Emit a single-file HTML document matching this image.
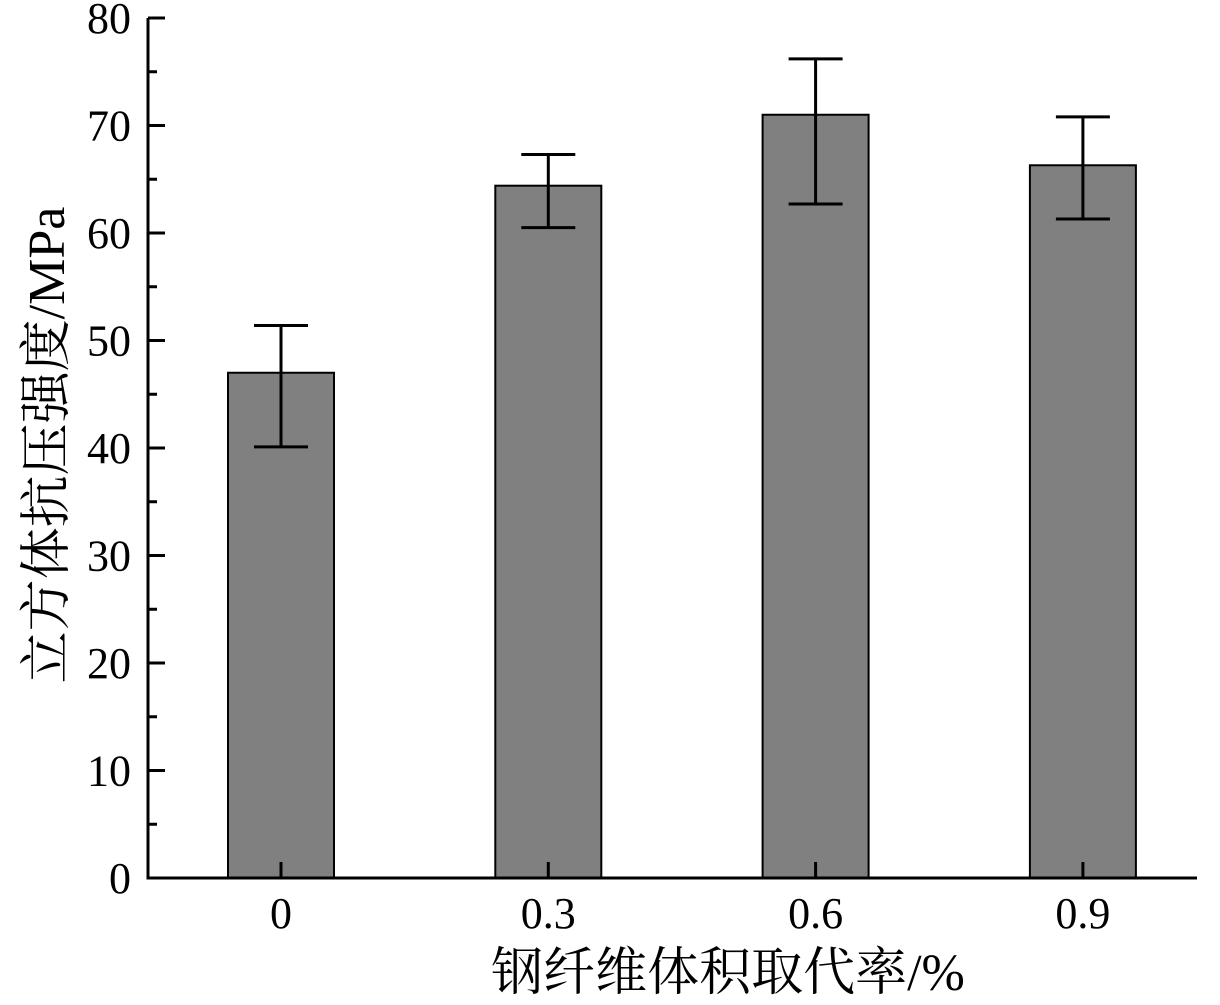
<!DOCTYPE html>
<html><head><meta charset="utf-8"><style>body{margin:0;background:#fff}svg{display:block}
text{font-family:"Liberation Serif","Noto Serif CJK SC",serif}</style></head>
<body>
<svg width="1220" height="1005" id="c"></svg>
<script>
const categories=["0","0.3","0.6","0.9"];
const values=[47.0,64.4,71.0,66.3];
const errHigh=[51.4,67.3,76.2,70.8];
const errLow=[40.1,60.5,62.7,61.3];
const yTicks=[0,10,20,30,40,50,60,70,80];
const NS="http://www.w3.org/2000/svg";
const svg=document.getElementById('c');
const x0=148,y0=878,yTop=18,xEnd=1197;
const y=v=>y0-(v/80)*(y0-yTop);
const xc=i=>281+i*267.3;
function mk(t,a,p){const e=document.createElementNS(NS,t);for(const k in a)e.setAttribute(k,a[k]);(p||svg).appendChild(e);return e;}
categories.forEach((c,i)=>{
  const b=mk('rect',{x:xc(i)-53,y:y(values[i]),width:106,height:y0-y(values[i]),fill:'#808080',stroke:'#000','stroke-width':2});
  
  
  const g=mk('path',{d:`M${xc(i)} ${y(errLow[i])}V${y(errHigh[i])}M${xc(i)-27} ${y(errHigh[i])}H${xc(i)+27}M${xc(i)-27} ${y(errLow[i])}H${xc(i)+27}`,stroke:'#000','stroke-width':3,fill:'none'});
  
  
  const t=mk('line',{x1:xc(i),x2:xc(i),y1:y0,y2:y0-16,stroke:'#000','stroke-width':3});
  
  
  const l=mk('text',{x:xc(i),y:y0+50,'text-anchor':'middle','font-size':44});
  l.textContent=c;
  
  
});
yTicks.forEach(v=>{
  const t=mk('line',{x1:x0,x2:x0+17,y1:y(v),y2:y(v),stroke:'#000','stroke-width':3});
  
  
  if(v<80){const m=mk('line',{x1:x0,x2:x0+9,y1:y(v+5),y2:y(v+5),stroke:'#000','stroke-width':3});
  
  }
  const l=mk('text',{x:131,y:y(v)+15,'text-anchor':'end','font-size':44});
  l.textContent=v;
  
  
});
const ax=mk('path',{d:`M${x0} ${yTop}V${y0}H${xEnd}`,stroke:'#000','stroke-width':3,fill:'none'});


const xt=mk('text',{x:728,y:990,'text-anchor':'middle','font-size':52});
xt.textContent='钢纤维体积取代率/%';


const yt=mk('text',{x:0,y:0,'text-anchor':'middle','font-size':52,transform:'translate(64,445) rotate(-90)'});
yt.textContent='立方体抗压强度/MPa';


</script>
</body></html>
